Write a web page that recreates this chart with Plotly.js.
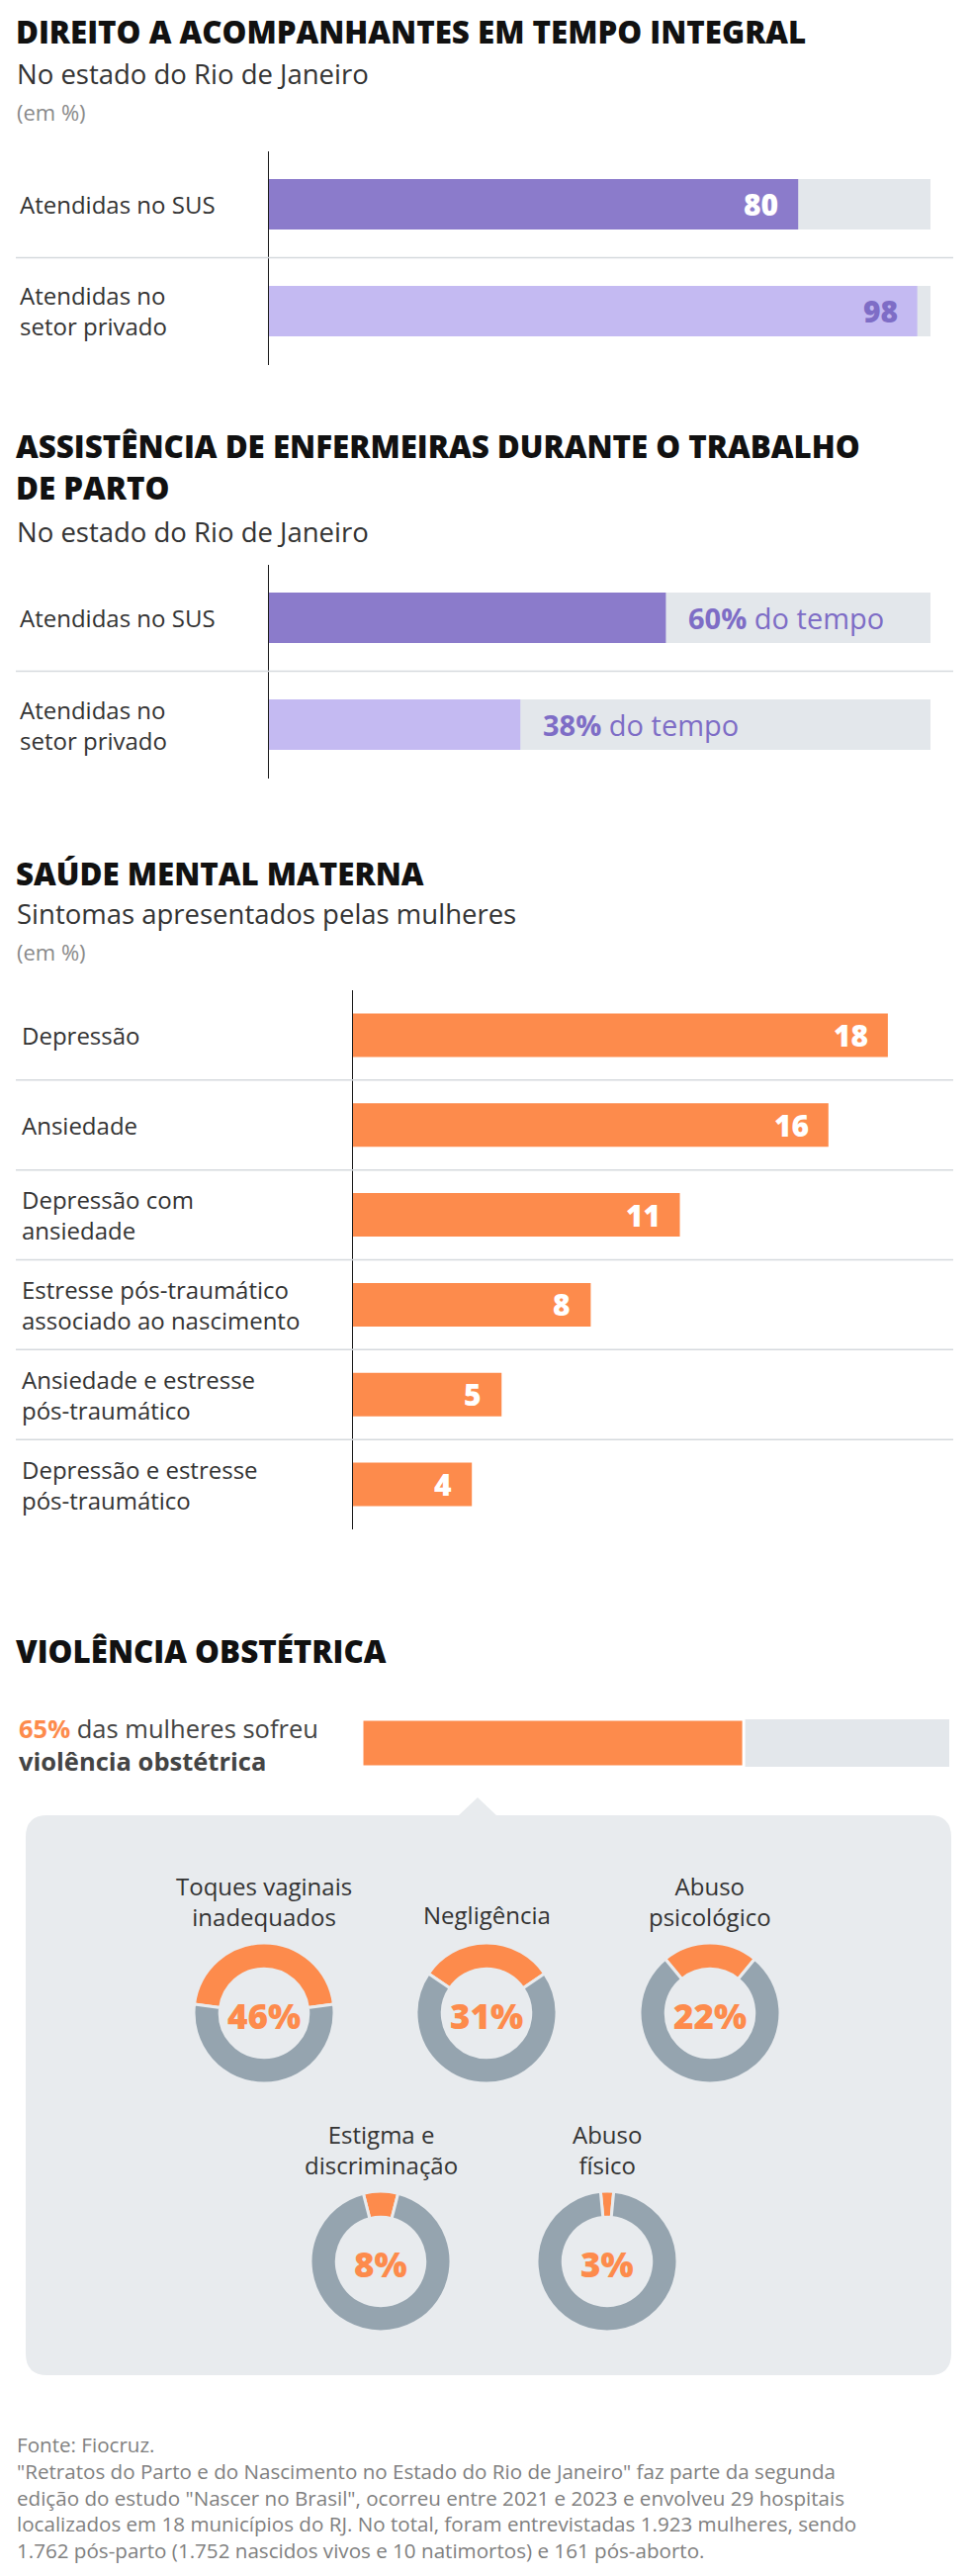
<!DOCTYPE html>
<html><head><meta charset="utf-8">
<script src="https://cdn.plot.ly/plotly-3.0.1.min.js"></script>
<style>html,body{margin:0;padding:0;background:#fff}</style>
</head><body><div id="chart" style="width:984px;height:2604px"></div>
<script>
// ---------- DATA ----------
const acompCategories = ["Atendidas no SUS", "Atendidas no<br>setor privado"];
const acompValues = [80, 98];

const enfCategories = ["Atendidas no SUS", "Atendidas no<br>setor privado"];
const enfValues = [60, 38];

const mentalCategories = ["Depressão", "Ansiedade", "Depressão com<br>ansiedade",
  "Estresse pós-traumático<br>associado ao nascimento", "Ansiedade e estresse<br>pós-traumático",
  "Depressão e estresse<br>pós-traumático"];
const mentalValues = [18, 16, 11, 8, 5, 4];

const violenciaTotal = 65;
const violenciaCategories = ["Toques vaginais<br>inadequados", "Negligência", "Abuso<br>psicológico",
  "Estigma e<br>discriminação", "Abuso<br>físico"];
const violenciaValues = [46, 31, 22, 8, 3];
const TOTAL = 100;

const titles = ["DIREITO A ACOMPANHANTES EM TEMPO INTEGRAL",
  "ASSISTÊNCIA DE ENFERMEIRAS DURANTE O TRABALHO", "DE PARTO",
  "SAÚDE MENTAL MATERNA", "VIOLÊNCIA OBSTÉTRICA"];
const subtitles = ["No estado do Rio de Janeiro", "No estado do Rio de Janeiro", "Sintomas apresentados pelas mulheres"];
const unitLabel = "(em %)";
const footerLines = ["Fonte: Fiocruz.",
  "\"Retratos do Parto e do Nascimento no Estado do Rio de Janeiro\" faz parte da segunda",
  "edição do estudo \"Nascer no Brasil\", ocorreu entre 2021 e 2023 e envolveu 29 hospitais",
  "localizados em 18 municípios do RJ. No total, foram entrevistadas 1.923 mulheres, sendo",
  "1.762 pós-parto (1.752 nascidos vivos e 10 natimortos) e 161 pós-aborto."];

// ---------- STYLE ----------
const W = 984, H = 2604;
const FONT = "Open Sans, Noto Sans, sans-serif";
const PURPLE = "#8B7BCB", LPURPLE = "#C4BAF2", PURPLE_TXT = "#7E6DC6";
const TRACK = "#E3E7EB", ORANGE = "#FD8B4C", DGREY = "#95A4AF", PANEL = "#E8EBEE";
const SEP = "#D5D9DD", TXT = "#333333";
const LABEL_SIZE = 24;

const fx = p => p / W, fy = p => 1 - p / H;
const ann = [], shapes = [];
function txt(text, x, y, size, color, opts, weight) {
  ann.push(Object.assign({text: text, x: fx(x), y: fy(y), xref: 'paper', yref: 'paper',
    xanchor: 'left', yanchor: 'middle', showarrow: false, align: 'left',
    font: {family: FONT, size: size, color: color, weight: weight || 400}}, opts || {}));
}

// Titles / subtitles
const TS = 31.3, TW = 800;
txt(titles[0], 14, 32, TS, "#111", null, TW);
txt(subtitles[0], 15, 75, 27.5, TXT);
txt(unitLabel, 15, 113, 22, "#8a8a8a");
txt(titles[1], 14, 451, TS, "#111", null, TW);
txt(titles[2], 14, 493, TS, "#111", null, TW);
txt(subtitles[1], 15, 538, 27.5, TXT);
txt(titles[3], 14, 883, TS, "#111", null, TW);
txt(subtitles[2], 15, 923, 27.5, TXT);
txt(unitLabel, 15, 962, 22, "#8a8a8a");
txt(titles[4], 14, 1669, TS, "#111", null, TW);
txt(footerLines.join("<br>"), 15, 2470 + 2 * 27, 20.6, "#7f7f7f");

const traces = [];
const layout = {
  width: W, height: H, margin: {l: 0, r: 0, t: 0, b: 0},
  paper_bgcolor: "#fff", plot_bgcolor: "rgba(0,0,0,0)", showlegend: false,
  barmode: 'overlay', font: {family: FONT},
  annotations: ann, shapes: shapes
};
function hideX(dom, range, anchor) {
  return {domain: dom, range: range, visible: false, fixedrange: true, anchor: anchor};
}
function catY(dom, n, line, anchor) {
  return {domain: dom, range: [n - 0.5, -0.5], type: 'linear', showline: line, linecolor: '#1a1a1a',
    linewidth: 1.5, showticklabels: false, ticks: '', showgrid: false, zeroline: false, fixedrange: true,
    anchor: anchor};
}

// ----- Section 1 & 2 -----
function twoBar(ax, cats, vals, yTop, yBot, labelMode) {
  const xa = ax === 1 ? 'x' : 'x' + ax, ya = ax === 1 ? 'y' : 'y' + ax;
  const xk = ax === 1 ? 'xaxis' : 'xaxis' + ax, yk = ax === 1 ? 'yaxis' : 'yaxis' + ax;
  layout[xk] = hideX([fx(272), fx(941)], [0, 100], ya);
  layout[yk] = catY([fy(yBot), fy(yTop)], cats.length, true, xa);
  const idx = cats.map((c, i) => i);
  traces.push({type: 'bar', orientation: 'h', x: cats.map(() => TOTAL), y: idx, xaxis: xa, yaxis: ya,
    width: 0.472, marker: {color: TRACK}, hoverinfo: 'skip'});
  traces.push({type: 'bar', orientation: 'h', x: vals, y: idx, xaxis: xa, yaxis: ya,
    width: 0.472, marker: {color: [PURPLE, LPURPLE]}, hoverinfo: 'skip'});
  cats.forEach((c, i) => {
    ann.push({text: c, xref: 'paper', yref: ya, x: fx(18), y: i, xanchor: 'left', yanchor: 'middle',
      align: 'left', showarrow: false, font: {family: FONT, size: LABEL_SIZE, color: TXT}});
    if (labelMode === 'inside') {
      ann.push({text: String(vals[i]), xref: xa, yref: ya, x: vals[i], y: i, xanchor: 'right',
        yanchor: 'middle', xshift: -18, showarrow: false,
        font: {family: FONT, size: 30, weight: 800, color: i === 0 ? '#ffffff' : PURPLE_TXT}});
    } else {
      ann.push({text: "<b>" + vals[i] + "%</b> do tempo", xref: xa, yref: ya, x: vals[i], y: i, xanchor: 'left',
        yanchor: 'middle', xshift: 21, showarrow: false,
        font: {family: FONT, size: 29, color: PURPLE_TXT}});
    }
  });
  shapes.push({type: 'line', xref: 'paper', yref: ya, x0: fx(16), x1: fx(964), y0: 0.5, y1: 0.5,
    line: {color: SEP, width: 1.5}});
}
twoBar(1, acompCategories, acompValues, 152.5, 368.5, 'inside');
twoBar(2, enfCategories, enfValues, 570.5, 786.5, 'outside');

// ----- Section 3 -----
layout.xaxis3 = hideX([fx(357), fx(964)], [0, 20.2], 'y3');
layout.yaxis3 = catY([fy(1546), fy(1001)], mentalCategories.length, true, 'x3');
const mIdx = mentalCategories.map((c, i) => i);
traces.push({type: 'bar', orientation: 'h', x: mentalValues, y: mIdx, xaxis: 'x3', yaxis: 'y3',
  width: 0.485, marker: {color: ORANGE}, hoverinfo: 'skip'});
mentalCategories.forEach((c, i) => {
  ann.push({text: c, xref: 'paper', yref: 'y3', x: fx(20), y: i, xanchor: 'left', yanchor: 'middle',
    align: 'left', showarrow: false, font: {family: FONT, size: LABEL_SIZE, color: TXT}});
  ann.push({text: String(mentalValues[i]), xref: 'x3', yref: 'y3', x: mentalValues[i], y: i,
    xanchor: 'right', yanchor: 'middle', xshift: -18, showarrow: false,
    font: {family: FONT, size: 30, weight: 800, color: '#ffffff'}});
  if (i < mentalCategories.length - 1) {
    shapes.push({type: 'line', xref: 'paper', yref: 'y3', x0: fx(16), x1: fx(964), y0: i + 0.5, y1: i + 0.5,
      line: {color: SEP, width: 1.5}});
  }
});

// ----- Section 4 -----
layout.xaxis4 = hideX([fx(366), fx(960)], [0, 100], 'y4');
layout.yaxis4 = {domain: [fy(1786), fy(1738)], range: [-0.5, 0.5], visible: false, fixedrange: true, anchor: 'x4'};
traces.push({type: 'bar', orientation: 'h', x: [TOTAL - violenciaTotal], base: [violenciaTotal], y: [0],
  xaxis: 'x4', yaxis: 'y4', width: 1, marker: {color: TRACK}, hoverinfo: 'skip'});
traces.push({type: 'bar', orientation: 'h', x: [violenciaTotal], y: [0], xaxis: 'x4', yaxis: 'y4', width: 1,
  marker: {color: ORANGE, line: {color: '#ffffff', width: 3}}, hoverinfo: 'skip'});
txt("<b><span style='color:" + ORANGE + "'>" + violenciaTotal + "%</span></b> das mulheres sofreu<br><b>violência obstétrica</b>",
  17, 1763, 25.5, "#444");

// panel with pointer
(function () {
  const x0 = 26, x1 = 962, y0 = 1835, y1 = 2401, r = 22, ax = 483, ay = 1817, bw = 19;
  const P = (x, y) => fx(x).toFixed(5) + ',' + fy(y).toFixed(5);
  const path = 'M' + P(x0 + r, y0) + ' L' + P(ax - bw, y0) + ' L' + P(ax, ay) + ' L' + P(ax + bw, y0) +
    ' L' + P(x1 - r, y0) + ' Q' + P(x1, y0) + ' ' + P(x1, y0 + r) + ' L' + P(x1, y1 - r) +
    ' Q' + P(x1, y1) + ' ' + P(x1 - r, y1) + ' L' + P(x0 + r, y1) + ' Q' + P(x0, y1) + ' ' + P(x0, y1 - r) +
    ' L' + P(x0, y0 + r) + ' Q' + P(x0, y0) + ' ' + P(x0 + r, y0) + ' Z';
  shapes.push({type: 'path', xref: 'paper', yref: 'paper', path: path, fillcolor: PANEL,
    line: {width: 0}, layer: 'below'});
})();

// donuts
const donutCenters = [[267, 2035], [492, 2035], [718, 2035], [385, 2286], [614, 2286]];
const R = 71;
violenciaCategories.forEach((c, i) => {
  const [cx, cy] = donutCenters[i];
  const v = violenciaValues[i];
  traces.push({type: 'pie', values: [v, TOTAL - v], labels: ['a', 'b'], sort: false, direction: 'clockwise',
    rotation: -v * 1.8, hole: 0.63, textinfo: 'none', hoverinfo: 'skip', showlegend: false,
    marker: {colors: [ORANGE, DGREY], line: {color: PANEL, width: 3}},
    domain: {x: [fx(cx - R), fx(cx + R)], y: [fy(cy + R), fy(cy - R)]}});
  ann.push({text: v + "%", xref: 'paper', yref: 'paper', x: fx(cx), y: fy(cy + 2),
    xanchor: 'center', yanchor: 'middle', showarrow: false,
    font: {family: FONT, size: 35, weight: 800, color: ORANGE}});
  const n = c.split("<br>").length;
  ann.push({text: c, xref: 'paper', yref: 'paper', x: fx(cx), y: fy(cy - 100 - (n - 1) * 13.5),
    xanchor: 'center', yanchor: 'middle', align: 'center', showarrow: false,
    font: {family: FONT, size: 24, color: TXT}});
});

Plotly.newPlot('chart', traces, layout, {displayModeBar: false, staticPlot: true});
</script></body></html>
